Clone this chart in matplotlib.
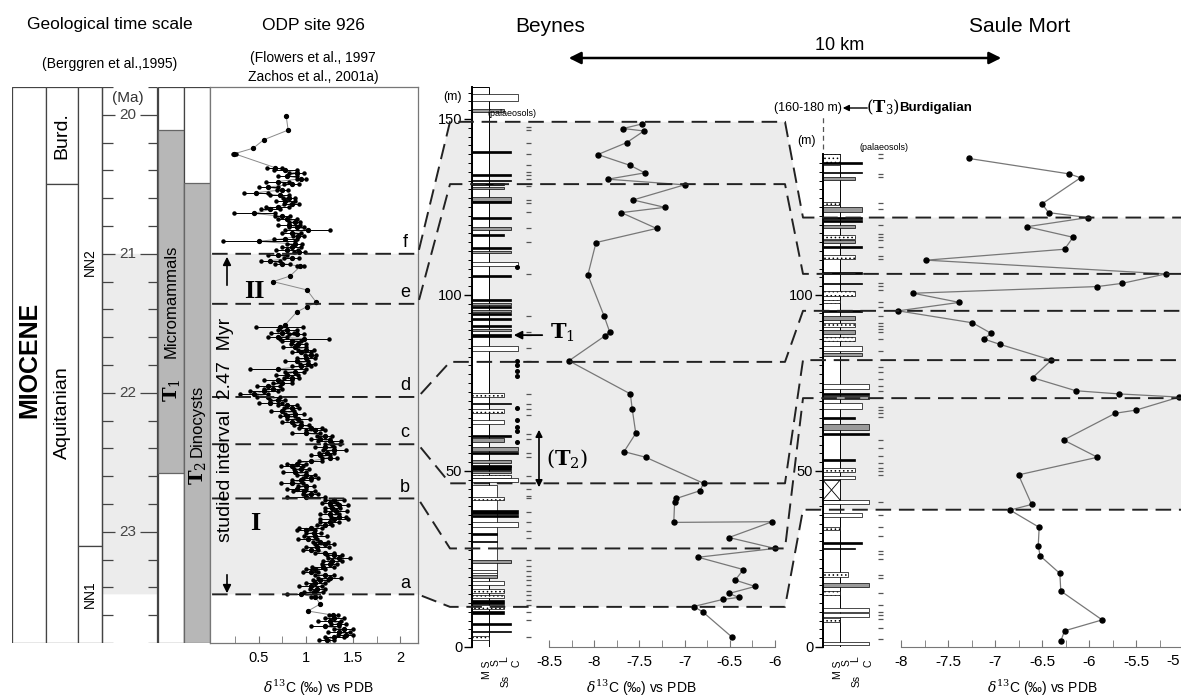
import numpy as np
import matplotlib.pyplot as plt
from matplotlib.patches import Rectangle, Polygon
from matplotlib.transforms import blended_transform_factory as blend
from matplotlib.ticker import FuncFormatter

plt.rcParams['font.family'] = ['Liberation Sans', 'DejaVu Sans']
plt.rcParams['axes.unicode_minus'] = False
plt.rcParams['mathtext.fontset'] = 'dejavuserif'
plt.rcParams['hatch.linewidth'] = 0.6

# ---------------- data ----------------
# geological time scale (Ma)
ts_top, ts_base = 19.8, 23.8
stage_names = ['Burd.', 'Aquitanian']
stage_bounds = [19.8, 20.5, 23.8]
zone_names = ['NN2', 'NN1']
zone_bounds = [19.8, 23.1, 23.8]
micromammal_range = (20.11, 22.58)
dinocyst_range = (20.49, 23.8)

# ODP site 926 d13C record
odp_age = [
    20.01, 20.11, 20.18, 20.24, 20.28, 20.38,
    20.40, 20.42, 20.44, 20.46, 20.48, 20.50, 20.52, 20.54, 20.56, 20.58,
    20.60, 20.62, 20.64, 20.66, 20.68, 20.71, 20.73, 20.75, 20.77, 20.79,
    20.81, 20.83, 20.85, 20.87, 20.89, 20.91, 20.93, 20.95, 20.97, 20.99,
    21.01, 21.03, 21.05, 21.07, 21.09,
    21.16, 21.20, 21.26, 21.35, 21.38, 21.42, 21.51,
    21.53, 21.55, 21.57, 21.58, 21.60, 21.61, 21.63, 21.65, 21.67, 21.69,
    21.71, 21.73, 21.75, 21.77, 21.79, 21.81, 21.83, 21.85, 21.87, 21.89,
    21.91, 21.93, 21.95, 21.97, 21.99, 22.01, 22.03, 22.05, 22.07, 22.09,
    22.11, 22.13, 22.15, 22.17, 22.19, 22.21, 22.23, 22.25, 22.27, 22.29,
    22.31, 22.33, 22.35, 22.37, 22.39, 22.41, 22.43, 22.45, 22.47, 22.49,
    22.51, 22.53, 22.55, 22.57, 22.59, 22.61, 22.63, 22.65, 22.67, 22.69,
    22.71, 22.73, 22.75, 22.77, 22.79, 22.81, 22.83, 22.85, 22.87, 22.89,
    22.91, 22.93, 22.95, 22.97, 22.99, 23.01, 23.03, 23.05, 23.07, 23.09,
    23.11, 23.13, 23.15, 23.17, 23.19, 23.21, 23.23, 23.25, 23.27, 23.29,
    23.31, 23.33, 23.35, 23.37, 23.39, 23.41, 23.43, 23.45, 23.47,
    23.52, 23.57, 23.60, 23.62, 23.64, 23.66, 23.68, 23.70, 23.72, 23.74,
    23.76, 23.78]
odp_d13c = [
    0.79, 0.81, 0.55, 0.44, 0.24, 0.67,
    0.78, 0.90, 0.80, 0.95, 0.70, 0.85, 0.60, 0.75, 0.47, 0.72,
    0.82, 0.78, 0.85, 0.70, 0.62, 0.45, 0.75, 0.80, 0.88, 0.82,
    0.90, 1.02, 0.85, 0.92, 0.78, 0.50, 0.88, 0.85, 0.80, 0.93,
    0.70, 0.85, 0.62, 0.75, 0.94,
    0.83, 0.65, 1.01, 1.11, 1.01, 0.90, 0.78,
    0.72, 0.80, 0.75, 0.90, 0.70, 0.98, 0.85, 0.92, 0.88, 1.00,
    0.95, 1.05, 1.00, 0.90, 1.02, 0.95, 0.70, 0.88, 0.80, 0.85,
    0.70, 0.75, 0.60, 0.65, 0.55, 0.45, 0.60, 0.70, 0.62, 0.80,
    0.85, 0.75, 0.88, 0.80, 0.92, 0.85, 0.95, 1.05, 1.10, 1.00,
    1.20, 1.15, 1.25, 1.28, 1.20, 1.30, 1.22, 1.15, 1.25, 1.05,
    0.90, 0.85, 0.95, 0.88, 1.00, 1.05, 0.95, 0.85, 1.00, 0.90,
    0.98, 1.05, 1.00, 1.30, 1.25, 1.35, 1.28, 1.32, 1.25, 1.35,
    1.30, 1.25, 1.20, 1.05, 1.00, 1.08, 1.10, 1.02, 1.15, 1.20,
    1.12, 1.05, 1.20, 1.30, 1.35, 1.28, 1.25, 1.18, 1.10, 1.05,
    1.20, 1.25, 1.15, 1.10, 1.05, 1.12, 1.08, 0.95, 1.10,
    1.15, 1.02, 1.29, 1.30, 1.25, 1.35, 1.20, 1.40, 1.35, 1.42,
    1.30, 1.22]
odp_spread = [
    0.00, 0.00, 0.00, 0.00, 0.02, 0.08,
    0.12, 0.08, 0.10, 0.05, 0.12, 0.08, 0.10, 0.06, 0.13, 0.10,
    0.06, 0.10, 0.08, 0.12, 0.10, 0.22, 0.08, 0.10, 0.06, 0.12,
    0.08, 0.24, 0.10, 0.06, 0.12, 0.38, 0.08, 0.10, 0.12, 0.06,
    0.10, 0.08, 0.10, 0.08, 0.04,
    0.00, 0.00, 0.00, 0.00, 0.00, 0.00, 0.00,
    0.25, 0.10, 0.12, 0.08, 0.10, 0.26, 0.10, 0.08, 0.12, 0.08,
    0.10, 0.06, 0.10, 0.12, 0.08, 0.10, 0.30, 0.10, 0.12, 0.08,
    0.15, 0.10, 0.12, 0.10, 0.15, 0.15, 0.12, 0.08, 0.12, 0.10,
    0.08, 0.12, 0.10, 0.08, 0.12, 0.10, 0.08, 0.12, 0.10, 0.15,
    0.08, 0.10, 0.12, 0.08, 0.10, 0.12, 0.08, 0.10, 0.08, 0.12,
    0.10, 0.12, 0.08, 0.12, 0.10, 0.08, 0.10, 0.12, 0.08, 0.10,
    0.12, 0.08, 0.20, 0.10, 0.08, 0.10, 0.08, 0.12, 0.10, 0.08,
    0.15, 0.10, 0.08, 0.12, 0.10, 0.08, 0.12, 0.10, 0.08, 0.10,
    0.12, 0.08, 0.10, 0.08, 0.12, 0.10, 0.08, 0.12, 0.10, 0.08,
    0.10, 0.12, 0.08, 0.10, 0.12, 0.08, 0.10, 0.15, 0.05,
    0.00, 0.00, 0.05, 0.10, 0.12, 0.08, 0.15, 0.10, 0.12, 0.08,
    0.10, 0.08]
assert len(odp_age) == len(odp_d13c) == len(odp_spread)

# correlation levels
tie_letters = ['f', 'e', 'd', 'c', 'b', 'a']
odp_tie_age = [21.0, 21.36, 22.03, 22.37, 22.76, 23.45]
beynes_tie_m = [149.2, 131.5, 81.0, 46.5, 28.0, 11.4]
saule_tie_m = [122.0, 106.0, 95.5, 81.5, 70.7, 39.0]

# Beynes section
beynes_depth = [148.6, 147.3, 146.6, 143.3, 139.9, 136.8, 134.7, 132.9, 131.3, 127.0,
                124.9, 123.4, 118.9, 114.9, 105.7, 94.0, 89.6, 88.4, 81.3, 71.9,
                67.7, 60.7, 55.5, 53.9, 46.5, 44.4, 42.2, 41.3, 35.4, 35.6,
                31.1, 28.0, 25.5, 22.0, 19.0, 17.2, 15.2, 14.1, 13.5, 11.5,
                10.0, 2.9]
beynes_d13c = [-7.47, -7.68, -7.45, -7.64, -7.96, -7.60, -7.44, -7.85, -7.00, -7.57,
               -7.22, -7.70, -7.31, -7.98, -8.07, -7.89, -7.83, -7.88, -8.28, -7.60,
               -7.58, -7.54, -7.67, -7.43, -6.79, -6.83, -7.09, -7.11, -7.12, -6.03,
               -6.51, -6.00, -6.85, -6.35, -6.44, -6.22, -6.51, -6.40, -6.58, -6.90,
               -6.80, -6.48]
beynes_top = 159.0
beynes_bed_depth = [33.0, 156.0, 152.5, 140.7, 134.0, 132.5, 131.5, 130.4, 127.3, 126.5,
                    121.8, 118.9, 117.0, 113.3, 112.3, 108.8, 105.5, 98.5, 97.5, 96.5,
                    95.5, 94.5, 93.3, 91.2, 90.0, 88.6, 84.9, 71.6, 69.2, 67.1,
                    64.0, 60.0, 58.8, 56.3, 55.1, 52.6, 51.5, 50.8, 49.8, 48.4,
                    47.4, 42.2, 38.4, 37.2, 34.9, 32.2, 30.0, 24.2, 21.5, 20.0,
                    18.1, 16.0, 14.3, 12.8, 11.3, 9.8, 6.5, 4.4, 2.5]
beynes_bed_thick = [26.0, 2.0, 0.8, 0.5, 0.6, 0.5, 0.5, 0.5, 1.0, 0.5,
                    0.6, 0.8, 0.5, 0.6, 0.6, 1.2, 0.6, 0.6, 0.6, 0.6,
                    0.5, 0.6, 0.6, 0.8, 0.6, 0.8, 1.5, 1.2, 0.5, 1.2,
                    1.2, 0.5, 1.0, 1.0, 0.8, 0.8, 0.6, 1.0, 0.6, 0.8,
                    1.0, 1.0, 1.2, 0.8, 1.5, 0.5, 0.5, 0.8, 1.0, 0.8,
                    1.2, 1.2, 1.0, 1.0, 1.0, 1.0, 0.5, 0.5, 1.0]
beynes_bed_size = ['S', 'C', 'L', 'Ss', 'Ss', 'Ss', 'L', 'L', 'Ss', 'Ss',
                   'Ss', 'Ss', 'L', 'Ss', 'Ss', 'C', 'Ss', 'Ss', 'Ss', 'Ss',
                   'Ss', 'Ss', 'Ss', 'Ss', 'Ss', 'Ss', 'C', 'L', 'Ss', 'L',
                   'L', 'Ss', 'L', 'C', 'C', 'Ss', 'Ss', 'Ss', 'Ss', 'Ss',
                   'C', 'L', 'C', 'C', 'C', 'S', 'S', 'Ss', 'S', 'S',
                   'L', 'L', 'L', 'L', 'L', 'L', 'Ss', 'Ss', 'M']
beynes_bed_fill = ['w', 'w', 'g', 'k', 'k', 'k', 'k', 'g', 'g', 'k',
                   'k', 'g', 'k', 'k', 'g', 'w', 'k', 'k', 'g', 'k',
                   'g', 'k', 'k', 'k', 'g', 'k', 'w', 'd', 'k', 'd',
                   'w', 'k', 'g', 'g', 'k', 'g', 'k', 'k', 'g', 'd',
                   'w', 'd', 'k', 'k', 'w', 'k', 'k', 'g', 'w', 'g',
                   'w', 'd', 'd', 'k', 'd', 'k', 'k', 'k', 'd']
beynes_palaeosols = [147.6, 147.0, 143.3, 140.0, 136.8, 135.0, 134.0, 133.0, 131.0, 127.0,
                     126.0, 123.5, 119.0, 115.0, 106.0, 94.0, 89.5, 88.5, 85.0, 81.3,
                     72.0, 69.0, 67.5, 66.0, 60.6, 59.0, 55.0, 54.0, 48.6, 44.8,
                     43.0, 42.2, 38.4, 35.5, 33.0, 31.0, 24.8, 23.0, 21.7, 20.3,
                     19.0, 17.6, 16.0, 14.8, 13.4, 12.0, 9.9, 7.7, 2.7]
beynes_dots = [108.0, 81.3, 80.0, 78.5, 77.0, 68.0, 64.5, 62.6, 61.3, 58.3]
t1_depth = 88.6
t2_range = (62.5, 44.6)

# Saule Mort section
saule_depth = [138.8, 134.4, 133.3, 125.9, 123.4, 122.0, 119.4, 116.4, 113.0, 109.9,
               106.0, 103.3, 102.4, 100.5, 97.9, 95.5, 92.1, 89.1, 87.5, 86.0,
               81.5, 76.5, 72.8, 71.9, 71.0, 67.3, 66.4, 58.8, 53.9, 48.9,
               40.5, 38.9, 34.0, 28.8, 25.9, 20.9, 15.9, 7.7, 4.6, 1.7]
saule_d13c = [-7.28, -6.21, -6.09, -6.50, -6.43, -6.01, -6.66, -6.17, -6.26, -7.73,
              -5.18, -5.65, -5.91, -7.87, -7.38, -8.03, -7.24, -7.04, -7.12, -6.95,
              -6.40, -6.60, -6.14, -5.68, -5.04, -5.50, -5.72, -6.27, -5.91, -6.75,
              -6.61, -6.84, -6.53, -6.54, -6.52, -6.31, -6.30, -5.86, -6.26, -6.30]
saule_top = 140.0
saule_bed_depth = [138.5, 137.4, 134.8, 133.2, 126.0, 124.3, 121.8, 121.0, 119.4, 116.5,
                   115.1, 113.7, 110.9, 106.2, 103.3, 100.5, 98.1, 95.5, 93.5, 91.5,
                   89.5, 87.5, 84.9, 83.0, 74.0, 72.0, 70.8, 68.5, 65.0, 62.5,
                   60.5, 53.1, 50.3, 48.2, 41.3, 37.5, 33.7, 29.6, 28.0, 20.5,
                   17.6, 15.4, 10.5, 9.1, 7.7, 1.0]
saule_bed_thick = [3.0, 0.5, 0.5, 0.8, 1.0, 1.2, 0.5, 0.5, 0.8, 1.0,
                   0.8, 0.5, 1.2, 0.5, 0.5, 1.5, 1.0, 0.6, 1.0, 1.0,
                   1.0, 1.0, 1.5, 0.8, 1.5, 0.6, 0.8, 1.5, 0.5, 1.5,
                   0.8, 0.5, 1.0, 1.0, 1.2, 1.2, 1.0, 0.5, 0.5, 1.5,
                   1.2, 1.2, 1.0, 1.0, 1.0, 1.0]
saule_bed_size = ['M', 'Ss', 'Ss', 'L', 'M', 'Ss', 'Ss', 'Ss', 'L', 'L',
                  'L', 'Ss', 'L', 'Ss', 'Ss', 'L', 'M', 'Ss', 'L', 'L',
                  'L', 'L', 'Ss', 'Ss', 'C', 'C', 'C', 'Ss', 'L', 'C',
                  'C', 'L', 'L', 'L', 'C', 'Ss', 'M', 'Ss', 'L', 'S',
                  'C', 'M', 'C', 'C', 'M', 'C']
saule_bed_fill = ['d', 'k', 'k', 'g', 'd', 'g', 'k', 'k', 'g', 'd',
                  'g', 'k', 'd', 'k', 'k', 'd', 'd', 'k', 'g', 'd',
                  'g', 'd', 'w', 'g', 'w', 'k', 'g', 'w', 'k', 'g',
                  'k', 'k', 'd', 'w', 'w', 'w', 'd', 'k', 'k', 'd',
                  'g', 'd', 'w', 'w', 'd', 'w']
saule_covered = (41.8, 47.4)
saule_palaeosols = [140.0, 139.0, 134.5, 133.5, 126.0, 124.3, 119.8, 117.3, 116.5, 115.5,
                    113.5, 111.0, 110.2, 103.5, 102.5, 101.5, 98.1, 96.7, 94.0, 92.0,
                    91.3, 90.3, 89.4, 87.5, 84.2, 79.6, 78.0, 76.0, 74.1, 72.8,
                    68.3, 67.3, 66.4, 65.4, 58.8, 56.5, 54.2, 52.3, 50.9, 50.0,
                    49.0, 41.3, 37.5, 34.0, 31.4, 27.3, 26.5, 25.0, 20.5, 19.5,
                    15.4, 11.9, 10.0, 9.0, 8.0, 5.4, 2.4]

LOG_W = {'M': 17, 'S': 25, 'L': 32, 'Ss': 39, 'C': 46}
FILLS = {'k': ('black', None), 'g': ('#9a9a9a', None), 'w': ('white', None), 'd': ('white', '....')}
SHADE = '#ececec'
DASH = dict(color='#222222', lw=1.4, dashes=(8, 4))

# ---------------- layout ----------------
W, H = 1181, 697
fig = plt.figure(figsize=(W / 100, H / 100), dpi=100)


def px_axes(x0, y0, x1, y1, z):
    ax = fig.add_axes([x0 / W, 1 - y1 / H, (x1 - x0) / W, (y1 - y0) / H], zorder=z)
    ax.patch.set_visible(False)
    return ax


ax_under = px_axes(0, 0, W, H, 0)
ax_over = px_axes(0, 0, W, H, 10)
for a in (ax_under, ax_over):
    a.set_xlim(0, W)
    a.set_ylim(H, 0)
    a.axis('off')

depth_max = (647 - 80) / 3.52
ax_ts = px_axes(12, 87, 210, 643, 2)
ax_ts.set_xlim(0, 198)
ax_ts.set_ylim(ts_base, ts_top)
ax_ts.axis('off')
ax_odp = px_axes(210, 87, 418, 643, 2)
ax_odp.set_xlim(-0.02, 2.19)
ax_odp.set_ylim(ts_base, ts_top)

ax_bb = px_axes(450, 80, 785, 647, 1)
ax_blog = px_axes(472, 80, 535, 647, 3)
ax_bc = px_axes(549, 80, 775, 647, 2)
ax_sb = px_axes(803, 80, 1181, 647, 1)
ax_slog = px_axes(823, 80, 886, 647, 3)
ax_sc = px_axes(901, 80, 1183, 647, 2)
for a in (ax_bb, ax_blog, ax_bc, ax_sb, ax_slog, ax_sc):
    a.set_ylim(0, depth_max)
ax_bb.axis('off')
ax_sb.axis('off')


def ov(ax, x, y, x_in_axes=True):
    tr = blend(ax.transAxes, ax.transData) if x_in_axes else ax.transData
    return tuple(ax_over.transData.inverted().transform(tr.transform((x, y))))


# ---------------- shading and correlation lines ----------------
top_edge = [ov(ax_ts, 90, odp_tie_age[0], False), ov(ax_odp, 1, odp_tie_age[0]),
            ov(ax_bb, 0, beynes_tie_m[0]), ov(ax_bb, 1, beynes_tie_m[0]),
            ov(ax_sb, 0, saule_tie_m[0]), ov(ax_sb, 1, saule_tie_m[0])]
bot_edge = [ov(ax_ts, 90, odp_tie_age[-1], False), ov(ax_odp, 1, odp_tie_age[-1]),
            ov(ax_bb, 0, beynes_tie_m[-1]), ov(ax_bb, 1, beynes_tie_m[-1]),
            ov(ax_sb, 0, saule_tie_m[-1]), ov(ax_sb, 1, saule_tie_m[-1])]
ax_under.add_patch(Polygon(top_edge + bot_edge[::-1], closed=True, fc=SHADE, ec='none'))

for age, bm, sm, letter in zip(odp_tie_age, beynes_tie_m, saule_tie_m, tie_letters):
    pts = [ov(ax_odp, 0.01, age), ov(ax_odp, 1, age), ov(ax_bb, 0, bm), ov(ax_bb, 1, bm),
           ov(ax_sb, 0, sm), ov(ax_sb, 1, sm)]
    ax_over.plot([p[0] for p in pts], [p[1] for p in pts], **DASH)
    ax_odp.text(2.05, age - 0.02, letter, ha='center', va='bottom', fontsize=13)

# ---------------- time scale ----------------
edge = '#444444'
ax_ts.add_patch(Rectangle((0, ts_top), 34, ts_base - ts_top, fc='white', ec=edge, lw=0.9))
for i in range(len(stage_names)):
    ax_ts.add_patch(Rectangle((34, stage_bounds[i]), 32, stage_bounds[i + 1] - stage_bounds[i],
                              fc='white', ec=edge, lw=0.9))
for i in range(len(zone_names)):
    ax_ts.add_patch(Rectangle((66, zone_bounds[i]), 24, zone_bounds[i + 1] - zone_bounds[i],
                              fc='white', ec=edge, lw=0.9))
ax_ts.vlines([90, 145], ts_top, ts_base, color=edge, lw=0.9)
for t in np.round(np.arange(ts_top, ts_base + 0.01, 0.2), 1):
    if abs(t - round(t)) < 1e-6:
        ax_ts.hlines(t, 90, 103, color=edge, lw=0.9)
        ax_ts.hlines(t, 128, 145, color=edge, lw=0.9)
        ax_ts.text(116, t, f'{int(round(t))}', ha='center', va='center', fontsize=11, color='#444')
    else:
        ax_ts.hlines(t, 90, 101, color=edge, lw=0.9)
        ax_ts.hlines(t, 136, 145, color=edge, lw=0.9)
for x0, rng in ((146, micromammal_range), (172, dinocyst_range)):
    ax_ts.add_patch(Rectangle((x0, ts_top), 26, ts_base - ts_top, fc='white', ec=edge, lw=0.9))
    ax_ts.add_patch(Rectangle((x0, rng[0]), 26, rng[1] - rng[0], fc='#b7b7b7', ec='#666', lw=0.9))

ax_ts.text(17, 21.76, 'MIOCENE', rotation=90, ha='center', va='center', fontsize=18, weight='bold')
ax_ts.text(50, 20.15, stage_names[0], rotation=90, ha='center', va='center', fontsize=14)
ax_ts.text(50, 22.14, stage_names[1], rotation=90, ha='center', va='center', fontsize=14)
ax_ts.text(78, 21.06, zone_names[0], rotation=90, ha='center', va='center', fontsize=10)
ax_ts.text(78, 23.45, zone_names[1], rotation=90, ha='center', va='center', fontsize=10)
ax_ts.text(159, 21.34, 'Micromammals', rotation=90, ha='center', va='center', fontsize=12)
ax_ts.text(159, 21.98, r'$\mathbf{T}_1$', rotation=90, ha='center', va='center', fontsize=14)
ax_ts.text(185, 22.2, 'Dinocysts', rotation=90, ha='center', va='center', fontsize=12)
ax_ts.text(185, 22.58, r'$\mathbf{T}_2$', rotation=90, ha='center', va='center', fontsize=14)
ax_over.text(128, 98, '(Ma)', ha='center', va='center', fontsize=11, color='#333')

# ---------------- ODP record ----------------
age = np.array(odp_age)
val = np.array(odp_d13c)
spr = np.array(odp_spread)
bar = spr > 0
ax_odp.plot(val, age, color='#8a8a8a', lw=0.7, zorder=2)
ax_odp.hlines(age[bar], val[bar] - spr[bar], val[bar] + spr[bar], color='k', lw=0.7, zorder=3)
ax_odp.plot(np.r_[val[bar] - spr[bar], val[bar] + spr[bar]], np.r_[age[bar], age[bar]],
            'o', color='k', ms=2.2, zorder=3)
ax_odp.plot(val, age, 'o', color='k', ms=2.8, zorder=4)
for s in ax_odp.spines.values():
    s.set_color('#777')
    s.set_linewidth(0.9)
ax_odp.set_yticks([])
ax_odp.set_xticks([0.5, 1, 1.5, 2])
ax_odp.set_xticks([0.25, 0.75, 1.25, 1.75], minor=True)
ax_odp.xaxis.set_major_formatter(FuncFormatter(lambda v, p: f'{v:g}'))
ax_odp.tick_params(axis='x', which='both', direction='in', length=5, color='#777', labelsize=10.5, pad=6)

ax_over.text(254, 292, 'II', family=['Liberation Serif', 'DejaVu Serif'], weight='bold',
             fontsize=19, ha='center', va='center')
ax_over.text(255, 523, 'I', family=['Liberation Serif', 'DejaVu Serif'], weight='bold',
             fontsize=19, ha='center', va='center')
ax_over.text(226, 430, 'studied interval  2.47  Myr', rotation=90, ha='center', va='center', fontsize=14)
ax_over.annotate('', xy=(227, 254), xytext=(227, 288),
                 arrowprops=dict(arrowstyle='-|>', color='k', lw=1.2, mutation_scale=12))
ax_over.annotate('', xy=(227, 596), xytext=(227, 572),
                 arrowprops=dict(arrowstyle='-|>', color='k', lw=1.2, mutation_scale=12))


# ---------------- lithological logs ----------------
def draw_log(ax, top, depth, thick, size, fill, paleo, paleo_x, yticks):
    ax.add_patch(Rectangle((0, 0), LOG_W['M'], top, fc='white', ec='k', lw=0.7))
    for d, t, s, f in zip(depth, thick, size, fill):
        fc, hatch = FILLS[f]
        ax.add_patch(Rectangle((0, d - t / 2), LOG_W[s], t, fc=fc, ec='k', lw=0.5, hatch=hatch))
    ax.hlines(paleo, paleo_x, paleo_x + 5, color='#555', lw=0.9)
    ax.set_xlim(0, 63)
    for side in ('top', 'right', 'bottom'):
        ax.spines[side].set_visible(False)
    ax.spines['left'].set_linewidth(1.4)
    ax.spines['left'].set_bounds(0, top)
    ax.xaxis.set_visible(False)
    ax.set_yticks(yticks)
    ax.set_yticks(np.arange(0, top, 2.5), minor=True)
    ax.tick_params(axis='y', which='major', length=6, width=1, labelsize=10.5, pad=1)
    ax.tick_params(axis='y', which='minor', length=3, width=0.7)
    for i, lab in enumerate(['M S', 'S', 'L', 'Ss', 'C']):
        xs = [15, 24, 32, 34, 45][i]
        yy = [-6.5, -4.5, -3.5, -9.5, -4.5][i]
        ax.text(xs, yy, lab, rotation=90, ha='center', va='center', fontsize=7.5)


draw_log(ax_blog, beynes_top, beynes_bed_depth, beynes_bed_thick, beynes_bed_size,
         beynes_bed_fill, beynes_palaeosols, 54, [0, 50, 100, 150])
ax_blog.plot([45] * len(beynes_dots), beynes_dots, 'o', color='k', ms=2.6)
draw_log(ax_slog, saule_top, saule_bed_depth, saule_bed_thick, saule_bed_size,
         saule_bed_fill, saule_palaeosols, 55, [0, 50, 100])
c0, c1 = saule_covered
ax_slog.add_patch(Rectangle((0, c0), LOG_W['M'], c1 - c0, fc='white', ec='k', lw=0.6))
ax_slog.plot([0, LOG_W['M']], [c0, c1], color='k', lw=0.6)
ax_slog.plot([0, LOG_W['M']], [c1, c0], color='k', lw=0.6)
ax_slog.plot([0, 0], [141.5, 150.5], color='#555', lw=0.9, ls=(0, (4, 3)), clip_on=False)

ax_over.text(453, 97, '(m)', ha='center', va='center', fontsize=9)
ax_over.text(512, 114, '(palaeosols)', ha='center', va='center', fontsize=6.5)
ax_over.text(806, 141, '(m)', ha='center', va='center', fontsize=9)
ax_over.text(884, 147, '(palaeosols)', ha='center', va='center', fontsize=6.5)

# T1 / T2 markers at Beynes
_, yt1 = ov(ax_blog, 0, t1_depth)
ax_over.annotate('', xy=(511, yt1), xytext=(545, yt1),
                 arrowprops=dict(arrowstyle='-|>', color='k', lw=1.3, mutation_scale=12))
ax_over.text(550, yt1 - 2, r'$\mathbf{T}_1$', ha='left', va='center', fontsize=15)
_, yt2a = ov(ax_blog, 0, t2_range[0])
_, yt2b = ov(ax_blog, 0, t2_range[1])
ax_over.annotate('', xy=(539, yt2a), xytext=(539, yt2b),
                 arrowprops=dict(arrowstyle='<|-|>', color='k', lw=1.2, mutation_scale=10))
ax_over.text(546, (yt2a + yt2b) / 2, r'$(\mathbf{T}_2)$', ha='left', va='center', fontsize=15)

# ---------------- d13C curves of the sections ----------------
for ax, d, v, lo, hi in ((ax_bc, beynes_depth, beynes_d13c, -8.5, -6.0),
                         (ax_sc, saule_depth, saule_d13c, -8.0, -5.0)):
    ax.plot(v, d, color='#777', lw=0.9, marker='o', ms=3.6, mfc='k', mec='k', clip_on=False)
    ax.set_xlim(lo, hi)
    for side in ('top', 'right', 'left'):
        ax.spines[side].set_visible(False)
    ax.spines['bottom'].set_color('#777')
    ax.spines['bottom'].set_bounds(lo, hi)
    ax.set_yticks([])
    ax.set_xticks(np.arange(lo, hi + 0.01, 0.5))
    ax.set_xticks(np.arange(lo, hi + 0.01, 0.25), minor=True)
    ax.tick_params(axis='x', which='both', direction='in', length=5, color='#777',
                   labelsize=11, pad=6)
ax_bc.xaxis.set_major_formatter(FuncFormatter(lambda x, p: f'{x:g}'))
# the last Saule Mort label sits on the figure edge: written right-aligned instead
ax_sc.xaxis.set_major_formatter(FuncFormatter(lambda x, p: '' if x > -5.01 else f'{x:g}'))
ax_over.text(1180, 661, '-5', ha='right', va='center', fontsize=11)

# ---------------- headers and axis titles ----------------
narrow = ['Liberation Sans Narrow', 'Liberation Sans', 'DejaVu Sans']
ax_over.text(110, 25, 'Geological time scale', ha='center', va='center', fontsize=12.5)
ax_over.text(313, 25, 'ODP site 926', ha='center', va='center', fontsize=12.5)
ax_over.text(110, 64, '(Berggren et al.,1995)', ha='center', va='center', fontsize=10)
ax_over.text(313, 58, '(Flowers et al., 1997', ha='center', va='center', fontsize=10)
ax_over.text(313, 77, 'Zachos et al., 2001a)', ha='center', va='center', fontsize=10)
ax_over.text(550, 27, 'Beynes', ha='center', va='center', fontsize=15, family=narrow)
ax_over.text(1020, 27, 'Saule Mort', ha='center', va='center', fontsize=15, family=narrow)
ax_over.text(840, 46, '10 km', ha='center', va='center', fontsize=13, family=narrow)
ax_over.annotate('', xy=(566, 58), xytext=(1004, 58),
                 arrowprops=dict(arrowstyle='<|-|>', color='k', lw=1.8, mutation_scale=18))
ax_over.text(808, 108, '(160-180 m)', ha='center', va='center', fontsize=9, family=narrow)
ax_over.annotate('', xy=(840, 108), xytext=(870, 108),
                 arrowprops=dict(arrowstyle='-|>', color='k', lw=1.0, mutation_scale=9))
ax_over.text(883, 107, r'$(\mathbf{T}_3)$', ha='center', va='center', fontsize=12)
ax_over.text(899, 108, 'Burdigalian', ha='left', va='center', fontsize=9.5, weight='bold', family=narrow)

xlab = r'$\delta^{13}$C (‰) vs PDB'
for xc in (318, 641, 1042):
    ax_over.text(xc, 688, xlab, ha='center', va='center', fontsize=10)

fig.savefig('out.png', dpi=100)
